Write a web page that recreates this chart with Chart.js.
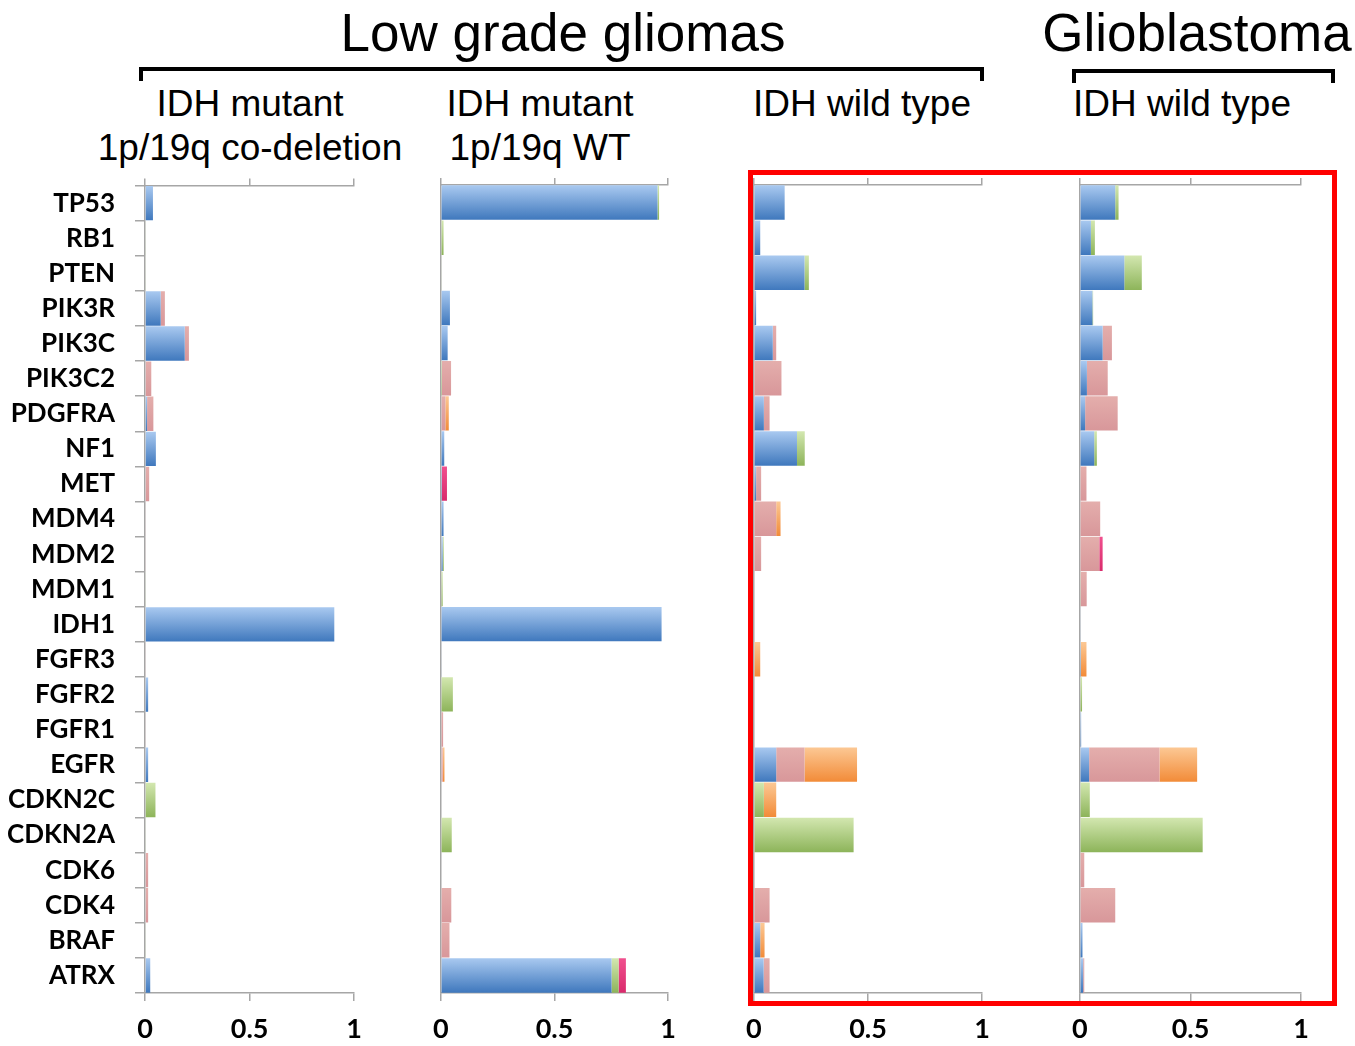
<!DOCTYPE html>
<html>
<head>
<meta charset="utf-8">
<script src="https://cdn.jsdelivr.net/npm/chart.js@4.4.1/dist/chart.umd.min.js"></script>
<style>
  html, body { margin: 0; padding: 0; background: #fff; }
  body { width: 1355px; height: 1046px; position: relative; overflow: hidden;
         font-family: "Liberation Sans", Arial, sans-serif; color: #000; }
  .panel { position: absolute; }
  .txt { position: absolute; white-space: nowrap; line-height: 1; transform: translateX(-50%); }
  .big { font-size: 53px; }
  .sub { font-size: 37px; }
  .bracket { position: absolute; border: 4px solid #000; border-bottom: none; box-sizing: border-box; }
  #frame { position: absolute; left: 748px; top: 170px; width: 589px; height: 836px;
           border: 5px solid #ff0000; box-sizing: border-box; pointer-events: none; z-index: 5; }
</style>
</head>
<body>

<div class="txt big" style="left:563px; top:6px;">Low grade gliomas</div>
<div class="txt big" style="left:1197px; top:6px;">Glioblastoma</div>
<div class="bracket" style="left:139px; top:67px; width:845px; height:14px;"></div>
<div class="bracket" style="left:1072px; top:69px; width:263px; height:14px;"></div>

<div class="txt sub" style="left:250px; top:85px;">IDH mutant</div>
<div class="txt sub" style="left:250px; top:129px;">1p/19q co-deletion</div>
<div class="txt sub" style="left:540px; top:85px;">IDH mutant</div>
<div class="txt sub" style="left:540px; top:129px;">1p/19q WT</div>
<div class="txt sub" style="left:862px; top:85px;">IDH wild type</div>
<div class="txt sub" style="left:1182px; top:85px;">IDH wild type</div>

<canvas id="p1" class="panel" width="374" height="896" style="left:0px; top:150px;"></canvas>
<canvas id="p2" class="panel" width="267" height="876" style="left:421px; top:170px;"></canvas>
<canvas id="p3" class="panel" width="268" height="876" style="left:734px; top:170px;"></canvas>
<canvas id="p4" class="panel" width="261" height="876" style="left:1060px; top:170px;"></canvas>

<div id="frame"></div>

<script>
// Genes, top to bottom
const genes = ['TP53','RB1','PTEN','PIK3R','PIK3C','PIK3C2','PDGFRA','NF1','MET','MDM4','MDM2','MDM1',
               'IDH1','FGFR3','FGFR2','FGFR1','EGFR','CDKN2C','CDKN2A','CDK6','CDK4','BRAF','ATRX'];
const xTicks = [0, 0.5, 1];

// IDH mutant, 1p/19q co-deletion (fraction of cases)
const codelMutation = [0.038,0,0,0.075,0.19,0,0.01,0.052,0,0,0,0,0.905,0,0.015,0,0.015,0,0,0,0,0,0.025];
const codelDeletion = [0,0.004,0.004,0,0,0,0,0,0,0,0,0.004,0,0,0,0,0,0.05,0.004,0,0,0.004,0];
const codelGain     = [0,0,0,0.02,0.02,0.03,0.03,0,0.02,0.004,0.004,0,0,0.004,0,0.004,0,0,0,0.015,0.015,0,0];
const codelAmp      = [0,0,0,0,0,0,0,0,0,0,0,0,0,0,0,0,0,0,0,0,0,0,0];
const codelOther    = [0,0,0,0,0,0,0,0,0,0,0,0,0,0,0,0,0,0,0,0,0,0,0];

// IDH mutant, 1p/19q WT
const idhMutMutation = [0.953,0,0,0.04,0.03,0,0,0.015,0.005,0.012,0.008,0,0.971,0.003,0,0,0,0,0,0,0,0,0.751];
const idhMutDeletion = [0.007,0.012,0.003,0,0,0.005,0,0,0,0,0.005,0.008,0,0,0.053,0,0,0,0.048,0,0,0,0.031];
const idhMutGain     = [0,0,0,0,0,0.04,0.02,0,0,0,0,0,0,0,0,0.01,0.008,0,0,0,0.046,0.038,0];
const idhMutAmp      = [0,0,0,0,0,0,0.015,0,0,0,0,0,0,0,0,0,0.008,0,0,0,0,0,0];
const idhMutOther    = [0,0,0,0,0,0,0,0,0.022,0,0,0,0,0,0,0,0,0,0,0,0,0,0.032];

// IDH wild type, lower grade glioma
const lggWtMutation = [0.135,0.028,0.222,0.01,0.083,0,0.044,0.189,0.01,0,0,0,0,0,0,0,0.098,0,0,0,0,0.028,0.043];
const lggWtDeletion = [0,0,0.019,0,0,0,0,0.034,0,0,0,0,0,0,0,0,0,0.044,0.437,0,0,0,0];
const lggWtGain     = [0,0,0,0,0.015,0.121,0.025,0,0.022,0.098,0.032,0,0,0,0,0,0.124,0,0,0,0.069,0,0.026];
const lggWtAmp      = [0,0,0,0,0,0,0,0,0,0.019,0,0,0,0.028,0,0,0.23,0.054,0,0,0,0.019,0];
const lggWtOther    = [0,0,0,0,0,0,0,0,0,0,0,0,0,0,0,0,0,0,0,0,0,0,0];

// Glioblastoma, IDH wild type
const gbmMutation = [0.16,0.05,0.201,0.057,0.103,0.032,0.024,0.065,0,0,0,0,0.003,0.005,0,0.006,0.042,0,0,0,0,0.012,0.015];
const gbmDeletion = [0.015,0.018,0.079,0.003,0,0,0,0.012,0,0,0,0.004,0,0,0.01,0,0,0.045,0.555,0,0,0,0];
const gbmGain     = [0,0,0,0,0.042,0.094,0.147,0,0.03,0.092,0.088,0.027,0,0,0,0,0.318,0,0,0.02,0.16,0,0.005];
const gbmAmp      = [0,0,0,0,0,0,0,0,0,0,0,0,0,0.025,0,0,0.17,0,0,0,0,0,0];
const gbmOther    = [0,0,0,0,0,0,0,0,0,0,0.015,0,0,0,0,0,0,0,0,0,0,0,0];

const CAT_PCT = 0.98, BAR_PCT = 1.0;
const AXIS_GREY = '#a6a6a6';

// Vertical gradient across each bar, lighter on top
function barFill(top, bottom) {
  return function (ctx) {
    const chart = ctx.chart;
    const y = chart.scales && chart.scales.y;
    if (ctx.type !== 'data' || !y || !chart.chartArea) return bottom;
    const c = y.getPixelForValue(ctx.dataIndex);
    const step = Math.abs(y.getPixelForValue(1) - y.getPixelForValue(0));
    const hh = step * CAT_PCT * BAR_PCT / 2;
    const g = chart.ctx.createLinearGradient(0, c - hh, 0, c + hh);
    g.addColorStop(0, top);
    g.addColorStop(1, bottom);
    return g;
  };
}

const seriesStyle = [
  { label: 'Mutation',      fill: barFill('#a9c9f0', '#3f78bd') },
  { label: 'Deletion',      fill: barFill('#d3e7b0', '#8db45a') },
  { label: 'Gain',          fill: barFill('#e4aeac', '#d8979a') },
  { label: 'Amplification', fill: barFill('#fcc894', '#f28b38') },
  { label: 'Other',         fill: barFill('#f0508e', '#d92a6c') }
];

function makePanel(id, series, showGenes, axisWidth) {
  const datasets = series.map((vals, i) => ({
    label: seriesStyle[i].label,
    data: vals,
    backgroundColor: seriesStyle[i].fill,
    borderWidth: 0,
    categoryPercentage: CAT_PCT,
    barPercentage: BAR_PCT,
    xAxisID: 'x',
    yAxisID: 'y'
  }));
  new Chart(document.getElementById(id), {
    type: 'bar',
    data: { labels: genes, datasets: datasets },
    options: {
      indexAxis: 'y',
      responsive: false,
      animation: false,
      layout: { padding: 0 },
      plugins: { legend: { display: false }, tooltip: { enabled: false } },
      scales: {
        x: {
          type: 'linear', position: 'bottom', stacked: true, min: 0, max: 1,
          afterBuildTicks: s => { s.ticks = xTicks.map(v => ({ value: v })); },
          ticks: {
            color: '#000', padding: 12, maxRotation: 0,
            font: { family: 'Lato', weight: 'bold', size: 27 },
            callback: v => String(v)
          },
          grid: { drawOnChartArea: false, drawTicks: true, tickLength: 8, color: AXIS_GREY, lineWidth: 1.5 },
          border: { display: true, color: AXIS_GREY, width: 1.5 },
          afterFit: s => { s.height = 53; }
        },
        xTop: {
          type: 'linear', position: 'top', min: 0, max: 1,
          afterBuildTicks: s => { s.ticks = xTicks.map(v => ({ value: v })); },
          ticks: { display: false },
          grid: { drawOnChartArea: false, drawTicks: true, tickLength: 7, color: AXIS_GREY, lineWidth: 1.5 },
          border: { display: true, color: AXIS_GREY, width: 1.5 },
          afterFit: s => { s.height = 15; }
        },
        y: {
          type: 'category', stacked: true, offset: true,
          ticks: {
            display: showGenes, color: '#000', padding: 20, autoSkip: false,
            font: { family: 'Lato', weight: 'bold', size: 26, lineHeight: 1.2 }
          },
          grid: { display: showGenes, drawOnChartArea: false, drawTicks: true, tickLength: 10,
                  color: AXIS_GREY, lineWidth: 1.5, offset: true },
          border: { display: true, color: AXIS_GREY, width: 1.5 },
          afterFit: s => { s.width = axisWidth; }
        }
      }
    }
  });
}

makePanel('p1', [codelMutation, codelDeletion, codelGain, codelAmp, codelOther], true, 145);
makePanel('p2', [idhMutMutation, idhMutDeletion, idhMutGain, idhMutAmp, idhMutOther], false, 10);
makePanel('p3', [lggWtMutation, lggWtDeletion, lggWtGain, lggWtAmp, lggWtOther], false, 10);
makePanel('p4', [gbmMutation, gbmDeletion, gbmGain, gbmAmp, gbmOther], false, 10);
</script>
</body>
</html>
